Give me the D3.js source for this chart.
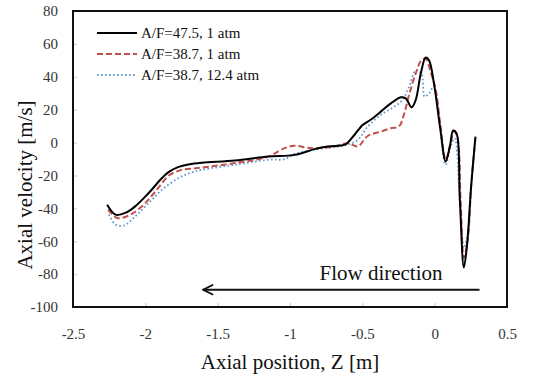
<!DOCTYPE html>
<html>
<head>
<meta charset="utf-8">
<script src="https://cdn.jsdelivr.net/npm/d3@7"></script>
<style>
  html, body { margin: 0; padding: 0; background: #fff; }
</style>
</head>
<body>
<svg id="chart" width="549" height="376"></svg>
<script>
// Axial velocity profiles along the reactor axis
const seriesNames = ["A/F=47.5, 1 atm", "A/F=38.7, 1 atm", "A/F=38.7, 12.4 atm"];

const zAF475 = [-2.264, -2.206, -2.138, -2.07, -1.977, -1.885, -1.84, -1.77, -1.70, -1.61, -1.38, -1.15, -0.968, -0.83, -0.74, -0.624, -0.6, -0.555, -0.498, -0.44, -0.372, -0.303, -0.234, -0.2, -0.16, -0.131, -0.096, -0.062, -0.039, -0.005, 0.037, 0.076, 0.105, 0.128, 0.151, 0.174, 0.202, 0.225, 0.252, 0.282];
const vAF475 = [-37.8, -43.8, -42.8, -38.8, -30.7, -21.6, -18, -14.8, -13.3, -12.3, -10.9, -8.5, -7.5, -4, -2.4, -1.4, 0, 4.6, 10.7, 14, 18.8, 23.8, 27.5, 26.9, 21.4, 25.9, 42, 51.7, 50, 36, 9.7, -11.5, -2.4, 7.3, 5.7, -34.7, -76, -61, -26.7, 3.6];

const zAF387 = [-2.257, -2.195, -2.115, -2.023, -1.93, -1.84, -1.79, -1.748, -1.61, -1.38, -1.15, -1.037, -0.968, -0.853, -0.693, -0.6, -0.532, -0.463, -0.372, -0.303, -0.245, -0.21, -0.177, -0.131, -0.092, -0.062, -0.028, 0.007, 0.041, 0.076, 0.11, 0.133, 0.156, 0.179, 0.202, 0.229, 0.252, 0.282];
const vAF387 = [-40.8, -45.9, -44.4, -38.8, -29.7, -20.2, -17.8, -16.6, -15.2, -12.5, -8.5, -3.4, -2, -3.4, -2.4, -0.4, -2.4, 4, 6.7, 8.7, 10, 17.8, 28.9, 42, 50, 51, 43, 32, 9.7, -10.5, -0.4, 6.7, 3.6, -34.7, -70, -59, -26.7, 3.6];

const zAF387hp = [-2.252, -2.206, -2.149, -2.069, -1.977, -1.885, -1.77, -1.69, -1.61, -1.38, -1.15, -1.037, -0.968, -0.807, -0.624, -0.532, -0.463, -0.372, -0.28, -0.222, -0.177, -0.131, -0.092, -0.069, -0.039, -0.005, 0.037, 0.076, 0.11, 0.138, 0.174, 0.202, 0.229, 0.252];
const vAF387hp = [-43.8, -49.9, -50.5, -44.8, -36.8, -28.7, -21.6, -18.5, -16.6, -13.5, -10.5, -10.1, -6.9, -4, -1.8, 1.6, 9.7, 16.8, 21.8, 25.9, 34, 44, 42, 27.9, 29.9, 34, 7.7, -13.5, -2.4, 2.6, -34.7, -64, -55, -26.7];

const xTicks = [-2.5, -2, -1.5, -1, -0.5, 0, 0.5];
const yTicks = [-100, -80, -60, -40, -20, 0, 20, 40, 60, 80];

const series = [
  { name: seriesNames[0], z: zAF475, v: vAF475, color: "#000000", width: 2, dash: null },
  { name: seriesNames[1], z: zAF387, v: vAF387, color: "#c0504d", width: 2, dash: "6,3" },
  { name: seriesNames[2], z: zAF387hp, v: vAF387hp, color: "#6396cc", width: 1.8, dash: "1.6,2.4" }
];

const FONT = "Liberation Serif";
const svg = d3.select("#chart");
const margin = { left: 73, right: 42, top: 11, bottom: 69 };
const W = 549, H = 376;

const x = d3.scaleLinear().domain([-2.5, 0.5]).range([margin.left, W - margin.right]);
const y = d3.scaleLinear().domain([-100, 80]).range([H - margin.bottom, margin.top]);

// Tick labels via d3 axes (tick marks drawn inward, lightly)
const xAxis = svg.append("g")
  .attr("transform", `translate(0,${H - margin.bottom})`)
  .call(d3.axisBottom(x).tickValues(xTicks).tickSize(-4).tickPadding(21).tickFormat(d => String(d)));
const yAxis = svg.append("g")
  .attr("transform", `translate(${margin.left},0)`)
  .call(d3.axisLeft(y).tickValues(yTicks).tickSize(-4).tickPadding(15).tickFormat(d => String(d)));

[xAxis, yAxis].forEach(g => {
  g.attr("font-family", FONT).attr("font-size", 15);
  g.select(".domain").remove();
  g.selectAll(".tick line").attr("stroke", "#c8c8c8").attr("stroke-width", 1);
  g.selectAll(".tick text")
    .attr("font-family", FONT)
    .attr("font-size", 15)
    .attr("fill", "#333");
});

// Data lines
const line = d3.line()
  .x(d => x(d[0]))
  .y(d => y(d[1]))
  .curve(d3.curveCatmullRom.alpha(0.5));

const plot = svg.append("g");
series.slice().reverse().forEach(s => {
  plot.append("path")
    .datum(s.z.map((z, i) => [z, s.v[i]]))
    .attr("fill", "none")
    .attr("stroke", s.color)
    .attr("stroke-width", s.width)
    .attr("stroke-dasharray", s.dash)
    .attr("stroke-linejoin", "round")
    .attr("d", line);
});

// Plot frame
svg.append("rect")
  .attr("x", margin.left)
  .attr("y", margin.top)
  .attr("width", W - margin.left - margin.right)
  .attr("height", H - margin.top - margin.bottom)
  .attr("fill", "none")
  .attr("stroke", "#111")
  .attr("stroke-width", 2);

// Legend
const legend = svg.append("g");
series.forEach((s, i) => {
  const ly = 33 + i * 21;
  legend.append("line")
    .attr("x1", 97).attr("x2", 137)
    .attr("y1", ly).attr("y2", ly)
    .attr("stroke", s.color)
    .attr("stroke-width", s.width)
    .attr("stroke-dasharray", s.dash);
  legend.append("text")
    .attr("x", 141).attr("y", ly + 5)
    .attr("font-family", FONT)
    .attr("font-size", 15)
    .attr("fill", "#111")
    .text(s.name);
});

// Flow direction annotation
svg.append("defs").append("marker")
  .attr("id", "openHead")
  .attr("viewBox", "0 0 12 12")
  .attr("refX", 11).attr("refY", 6)
  .attr("markerWidth", 12).attr("markerHeight", 12)
  .attr("markerUnits", "userSpaceOnUse")
  .attr("orient", "auto")
  .append("path")
  .attr("d", "M1,1 L11,6 L1,11")
  .attr("fill", "none")
  .attr("stroke", "#111")
  .attr("stroke-width", 1.8);

svg.append("line")
  .attr("x1", x(0.31)).attr("x2", x(-1.6))
  .attr("y1", y(-89.5)).attr("y2", y(-89.5))
  .attr("stroke", "#111")
  .attr("stroke-width", 2)
  .attr("marker-end", "url(#openHead)");

svg.append("text")
  .attr("x", 381).attr("y", 280)
  .attr("text-anchor", "middle")
  .attr("font-family", FONT)
  .attr("font-size", 21)
  .attr("fill", "#111")
  .text("Flow direction");

// Axis titles
svg.append("text")
  .attr("x", 290).attr("y", 369)
  .attr("text-anchor", "middle")
  .attr("font-family", FONT)
  .attr("font-size", 21)
  .attr("fill", "#111")
  .text("Axial position, Z [m]");

svg.append("text")
  .attr("transform", `translate(32,185) rotate(-90)`)
  .attr("text-anchor", "middle")
  .attr("font-family", FONT)
  .attr("font-size", 21)
  .attr("fill", "#111")
  .text("Axial velocity [m/s]");
</script>
</body>
</html>
